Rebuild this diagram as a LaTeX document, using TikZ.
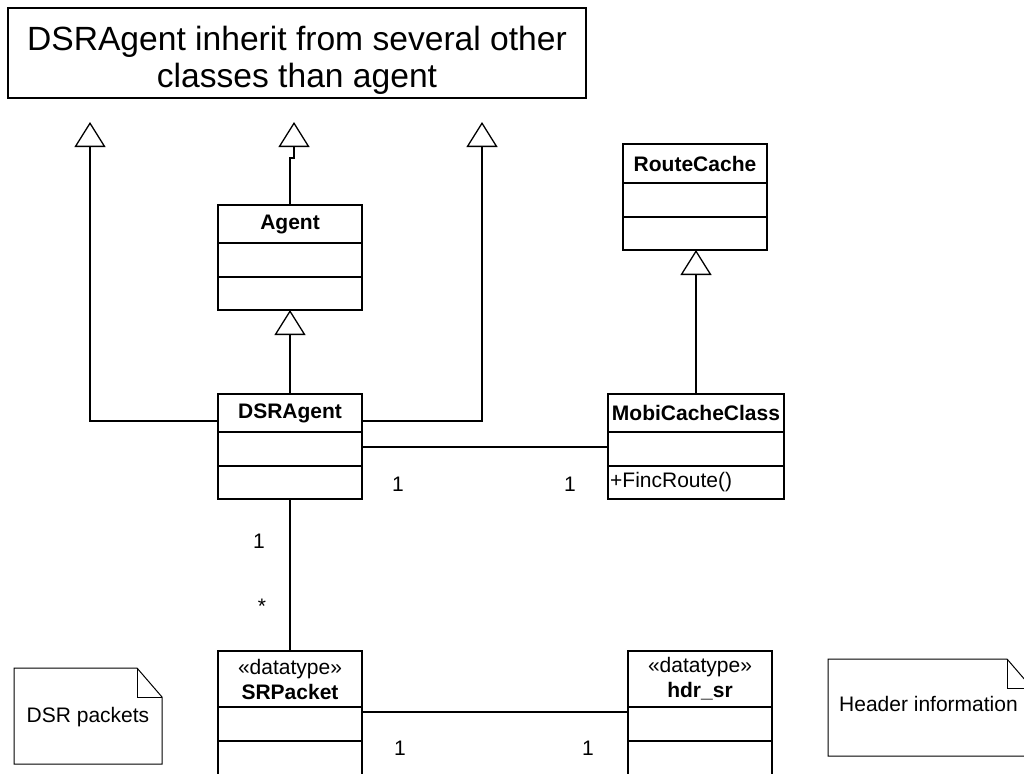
\documentclass[tikz,border=0pt]{standalone}
\usepackage{fontspec}
\setmainfont{Liberation Sans}
\usetikzlibrary{arrows.meta}

% UML class: #1 name prefix, #2 x, #3 y, #4 width, #5 header text, #6 header height, #7 operations height
\newcommand\umlclass[7]{%
  \node[compart, minimum width=#4, minimum height=#6] (#1T) at (#2,#3) {#5};
  \node[compart, minimum width=#4, minimum height=34pt] (#1A) at (#1T.south west) {};
  \node[compart, minimum width=#4, minimum height=#7] (#1O) at (#1A.south west) {};%
}

\begin{document}
\begin{tikzpicture}[x=1pt,y=-1pt,
  every node/.style={font=\fontsize{21}{25}\selectfont},
  compart/.style={draw, line width=2pt, inner sep=0pt, outer sep=0pt, anchor=north west, align=center},
  link/.style={line width=1.3pt},
  gen/.style={link, -{Triangle[open, length=25pt, width=31pt]}},
  notebox/.style={line width=1pt},
  mult/.style={inner sep=0pt}]

\useasboundingbox (0,0) rectangle (1024,773);
\clip (0,0) rectangle (1024,773);

% comment box at the top
\node[draw, line width=1.5pt, minimum width=578pt, minimum height=90pt, anchor=north west,
      outer sep=0pt, inner sep=0pt] (title) at (8,8) {};
\node[align=center, inner sep=0pt, font=\fontsize{33.6}{37}\selectfont] (titletext) at (297,60)
  {DSRAgent inherit from several other\\classes than agent};

% classes
\umlclass{agent}{218}{205}{144pt}{\textbf{Agent}}{38pt}{33pt}
\umlclass{dsr}{218}{394}{144pt}{\textbf{DSRAgent}}{38pt}{33pt}
\umlclass{rc}{623}{144}{144pt}{\textbf{RouteCache}}{39pt}{33pt}
\umlclass{mobi}{608}{394}{176pt}{\textbf{MobiCacheClass}}{38pt}{33pt}
\umlclass{sr}{218}{651}{144pt}{«datatype»\\\textbf{SRPacket}}{56pt}{40pt}
\umlclass{hdr}{628}{651}{144pt}{«datatype»\\\textbf{hdr\_sr}}{56pt}{40pt}

\node[anchor=west, inner sep=0pt] (findroute) at ([xshift=2pt]mobiO.west) {+FincRoute()};

% generalisations
\coordinate (genL) at (90,122);
\coordinate (genM) at (294,122);
\coordinate (genR) at (482,122);
\coordinate (jog) at (294,158);
\draw[gen] ([yshift=-8pt]dsrT.west) -| (genL);
\draw[gen] ([yshift=-8pt]dsrT.east) -| (genR);
\draw[gen] (agentT.north) -- (agentT.north |- jog) -- (jog) -- (genM);
\draw[gen] (dsrT.north) -- (agentO.south);
\draw[gen] (mobiT.north) -- (mobiT.north |- rcO.south);

% associations
\draw[link] ([yshift=2pt]dsrA.east) -- ([yshift=2pt]mobiA.west);
\draw[link] (dsrO.south) -- (srT.north);
\draw[link] ([yshift=-5pt]srA.north east) -- ([yshift=-5pt]hdrA.north west);

% multiplicities
\node[mult] (m1) at (398,484) {1};
\node[mult] (m2) at (570,484) {1};
\node[mult] (m3) at (259,541) {1};
\node[mult] (m4) at (262,606) {*};
\node[mult] (m5) at (400,748) {1};
\node[mult] (m6) at (588,748) {1};

% notes
\draw[notebox] (14,668) -- (137,668) -- (162,697) -- (162,764) -- (14,764) -- cycle;
\draw[notebox] (137,668) -- (137,697) -- (162,697);
\node (dsrnote) at (88,717) {DSR packets};
\draw[notebox] (828,659) -- (1007,659) -- (1032,688) -- (1032,756) -- (828,756) -- cycle;
\draw[notebox] (1007,659) -- (1007,688) -- (1032,688);
\node[anchor=west, inner sep=0pt] (hdrnote) at (839,704) {Header information};
\end{tikzpicture}
\end{document}
